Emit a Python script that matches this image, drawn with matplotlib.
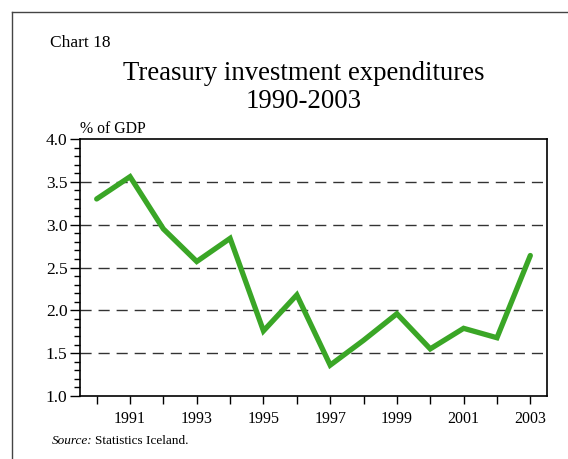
import matplotlib
matplotlib.use("Agg")
import matplotlib.pyplot as plt
from matplotlib.lines import Line2D
from matplotlib.ticker import MultipleLocator, FormatStrFormatter

# treasury investment expenditures, % of GDP
years = [1990, 1991, 1992, 1993, 1994, 1995, 1996, 1997, 1998, 1999, 2000, 2001, 2002, 2003]
values = [3.30, 3.56, 2.95, 2.57, 2.84, 1.76, 2.18, 1.36, 1.65, 1.96, 1.55, 1.79, 1.68, 2.64]
year_labels = [str(y) if y % 2 == 1 else "" for y in years]
grid_levels = [1.5, 2.0, 2.5, 3.0, 3.5]

plt.rcParams['font.family'] = ['Liberation Serif', 'DejaVu Serif']

fig = plt.figure(figsize=(5.68, 4.59), dpi=100)
W, H = 568, 459

# frame around the page (left and top edges only)
fig.add_artist(Line2D([12 / W, 12 / W], [0, 1 - 12 / H], color='#444444', lw=1.0))
fig.add_artist(Line2D([12 / W, 1], [1 - 12 / H, 1 - 12 / H], color='#444444', lw=1.0))

fig.text(50 / W, 1 - 43 / H, "Chart 18", fontsize=12.5, ha='left', va='center')
fig.text(304 / W, 1 - 73 / H, "Treasury investment expenditures", fontsize=19.3, ha='center', va='center')
fig.text(304 / W, 1 - 101 / H, "1990-2003", fontsize=19.3, ha='center', va='center')
fig.text(80 / W, 1 - 129 / H, "% of GDP", fontsize=11.3, ha='left', va='center')
src = fig.text(52 / W, 1 - 441 / H, "Source:", fontsize=9.5, style='italic', ha='left', va='center')
fig.text(95 / W, 1 - 441 / H, "Statistics Iceland.", fontsize=9.5, ha='left', va='center')

ax = fig.add_axes([80 / W, 1 - 396 / H, 467 / W, 257 / H])
ax.set_xlim(1989.5, 2003.5)
ax.set_ylim(1.0, 4.0)

for lv in grid_levels:
    ax.axhline(lv, color='#333333', lw=1.0, dashes=(8, 5), zorder=1)

ax.plot(years, values, color='#3aa626', lw=3.8, solid_joinstyle='miter',
        solid_capstyle='round', zorder=3)

ax.set_xticks(years)
ax.set_xticklabels(year_labels)
ax.yaxis.set_major_locator(MultipleLocator(0.5))
ax.yaxis.set_minor_locator(MultipleLocator(0.1))
ax.yaxis.set_major_formatter(FormatStrFormatter('%.1f'))
ax.tick_params(axis='x', direction='out', length=6, width=1, labelsize=11.5, pad=5)
ax.tick_params(axis='y', which='major', direction='out', length=7, width=1, labelsize=12.5, pad=2)
ax.tick_params(axis='y', which='minor', direction='out', length=4, width=1)
for s in ax.spines.values():
    s.set_linewidth(1.2)
    s.set_color('black')

fig.savefig("out.png", dpi=100)
